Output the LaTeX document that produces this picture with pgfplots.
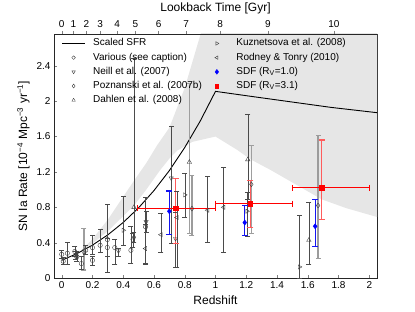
\documentclass[border=0pt]{standalone}
\usepackage{fontspec}
\setmainfont{Liberation Sans}
\usepackage{pgfplots}
\pgfplotsset{compat=1.18}
\definecolor{band}{RGB}{230,230,230}
\definecolor{cA}{RGB}{60,60,60}
\definecolor{cB}{RGB}{61,61,61}
\definecolor{lred}{RGB}{255,90,90}
\begin{document}
\begin{tikzpicture}
\path[use as bounding box] (0,0) rectangle (415pt,312pt);
\begin{axis}[
  at={(54pt,34pt)}, anchor=south west, scale only axis, width=323pt, height=244pt,
  xmin=-0.05, xmax=2.05, ymin=0, ymax=2.76,
  xtick={0,0.2,0.4,0.6,0.8,1,1.2,1.4,1.6,1.8,2},
  xticklabels={0,0.2,0.4,0.6,0.8,1,1.2,1.4,1.6,1.8,2},
  ytick={0,0.4,0.8,1.2,1.6,2,2.4},
  yticklabels={0,0.4,0.8,1.2,1.6,2,2.4},
  xtick pos=bottom, ytick pos=left,
  tick align=inside, major tick length=3pt,
  /pgf/number format/assume math mode=true,
  tick label style={font=\fontsize{10}{12}\selectfont},
  label style={font=\fontsize{12}{14}\selectfont},
  xlabel={Redshift},
  ylabel={SN Ia Rate [10\textsuperscript{−4} Mpc\textsuperscript{−3} yr\textsuperscript{−1}]},
  axis line style={black!85},
  legend columns=2, legend cell align=left,
  legend style={at={(0,1)}, anchor=north west, xshift=7.7pt, yshift=-2.35pt,
    draw=none, fill=none, inner sep=0pt, outer sep=0pt, column sep=0pt, row sep=0pt,
    font=\fontsize{10}{12}\selectfont,
    nodes={inner xsep=2pt, inner ysep=2.35pt, text height=7.2pt, text depth=2.3pt},
    /tikz/every even column/.append style={column sep=5pt}},
  tA/.style={black!70, line width=0.4pt, mark=-, mark size=2.5pt, mark options={solid, line width=0.4pt}, forget plot},
  tB/.style={black!71, line width=0.4pt, mark=-, mark size=2.5pt, mark options={solid, line width=0.4pt}, forget plot},
  gA/.style={black!38, line width=1.3pt, mark=-, mark size=2.5pt, mark options={solid, line width=1.3pt}, forget plot},
  gB/.style={black!39, line width=1.3pt, mark=-, mark size=2.5pt, mark options={solid, line width=1.3pt}, forget plot},
  sdfv/.style={line width=1.2pt, mark=-, mark size=3pt, mark options={solid, line width=1.2pt}, forget plot},
]
% shaded band
\addplot[fill=band, draw=none, forget plot] coordinates {
(0.12,0.29) (0.2,0.39) (0.3,0.53) (0.4,0.70) (0.47,0.82) (0.55,1.0) (0.64,1.22) (0.7,1.35) (0.75,1.44) (0.85,1.54) (1.0,1.6)
(1.14,1.45) (1.23,1.34) (1.36,1.22) (1.5,1.08) (1.69,0.89) (1.85,0.79) (2.05,0.69) (2.05,2.9) (0.93,2.9)
(0.91,2.8) (0.8,2.15) (0.7,1.70) (0.62,1.50) (0.55,1.30) (0.47,1.10) (0.4,0.92) (0.3,0.66) (0.2,0.44) (0.12,0.30)
} -- cycle;
% scaled SFR
\addplot[black, line width=0.9pt, forget plot] coordinates {
(0,0.2) (0.1,0.2765) (0.2,0.3717) (0.3,0.488) (0.4,0.628) (0.5,0.794) (0.6,0.989) (0.7,1.215) (0.8,1.476) (0.9,1.773) (1.0,2.111)
(1.25,2.05) (1.5,1.99) (1.75,1.93) (2.05,1.87)};

% legend images (row-major order)
\addlegendimage{legend image code/.code={\path[draw=none,fill=none] (0pt,-3pt) rectangle (29pt,3pt); \draw[black, line width=0.8pt] (0pt,0pt) -- (23pt,0pt);}}
\addlegendentry{Scaled SFR}
\addlegendimage{legend image code/.code={\path[draw=none,fill=none] (0pt,-3pt) rectangle (25.5pt,3pt); \draw[cA, line width=0.4pt, mark=triangle, mark size=2pt, mark options={rotate=-90}] plot coordinates {(8pt,0pt)};}}
\addlegendentry{Kuznetsova et al. (2008)}
\addlegendimage{legend image code/.code={\path[draw=none,fill=none] (0pt,-3pt) rectangle (29pt,3pt); \draw[cB, line width=0.4pt, mark=o, mark size=1.8pt] plot coordinates {(11.5pt,0pt)};}}
\addlegendentry{Various (see caption)}
\addlegendimage{legend image code/.code={\path[draw=none,fill=none] (0pt,-3pt) rectangle (25.5pt,3pt); \draw[cA, line width=0.4pt, mark=triangle, mark size=2pt, mark options={rotate=90}] plot coordinates {(8pt,0pt)};}}
\addlegendentry{Rodney \& Tonry (2010)}
\addlegendimage{legend image code/.code={\path[draw=none,fill=none] (0pt,-3pt) rectangle (29pt,3pt); \draw[cB, line width=0.4pt, mark=triangle, mark size=2pt, mark options={rotate=180}] plot coordinates {(11.5pt,0pt)};}}
\addlegendentry{Neill et al. (2007)}
\addlegendimage{legend image code/.code={\path[draw=none,fill=none] (0pt,-3pt) rectangle (25.5pt,3pt); \draw[blue, mark=diamond*, mark size=2.4pt] plot coordinates {(8pt,0pt)};}}
\addlegendentry{SDF (R\textsubscript{V}=1.0)}
\addlegendimage{legend image code/.code={\path[draw=none,fill=none] (0pt,-3pt) rectangle (29pt,3pt); \draw[cA, line width=0.4pt, mark=diamond, mark size=2pt] plot coordinates {(11.5pt,0pt)};}}
\addlegendentry{Poznanski et al. (2007b)}
\addlegendimage{legend image code/.code={\path[draw=none,fill=none] (0pt,-3pt) rectangle (25.5pt,3pt); \draw[red, mark=square*, mark size=1.8pt] plot coordinates {(8pt,0pt)};}}
\addlegendentry{SDF (R\textsubscript{V}=3.1)}
\addlegendimage{legend image code/.code={\path[draw=none,fill=none] (0pt,-3pt) rectangle (29pt,3pt); \draw[cB, line width=0.4pt, mark=triangle, mark size=2pt] plot coordinates {(11.5pt,0pt)};}}
\addlegendentry{Dahlen et al. (2008)}

% thick gray error bars
\addplot[gA] coordinates {(0.145,0.09) (0.145,0.56)};
\addplot[gB] coordinates {(0.847,0.48) (0.847,1.16)};
\addplot[gA] coordinates {(1.233,0.50) (1.233,1.50)};
\addplot[gB] coordinates {(1.667,0.22) (1.667,1.61)};
\addplot[gA] coordinates {(0.830,0.50) (0.830,2.20)};
% thin error bars
\addplot[tA] coordinates {(0.000,0.228) (0.000,0.318)};
\addplot[tB] coordinates {(0.010,0.160) (0.010,0.230)};
\addplot[tA] coordinates {(0.037,0.160) (0.037,0.400)};
\addplot[tB] coordinates {(0.085,0.250) (0.085,0.360)};
\addplot[tA] coordinates {(0.093,0.207) (0.093,0.307)};
\addplot[tB] coordinates {(0.098,0.190) (0.098,0.300)};
\addplot[tA] coordinates {(0.128,0.103) (0.128,0.243)};
\addplot[tB] coordinates {(0.156,0.264) (0.156,0.374)};
\addplot[tA] coordinates {(0.200,0.264) (0.200,0.484)};
\addplot[tB] coordinates {(0.200,0.150) (0.200,0.250)};
\addplot[tA] coordinates {(0.250,0.295) (0.250,0.550)};
\addplot[tB] coordinates {(0.297,0.065) (0.297,0.835)};
\addplot[tA] coordinates {(0.297,0.245) (0.297,0.445)};
\addplot[tB] coordinates {(0.345,0.154) (0.345,0.444)};
\addplot[tA] coordinates {(0.450,0.163) (0.450,0.583)};
\addplot[tB] coordinates {(0.545,0.158) (0.545,0.918)};
\addplot[tA] coordinates {(0.369,0.246) (0.369,0.336)};
\addplot[tB] coordinates {(0.462,0.347) (0.462,0.507)};
\addplot[tA] coordinates {(0.549,0.515) (0.549,0.755)};
\addplot[tB] coordinates {(0.712,0.390) (0.712,1.720)};
\addplot[tA] coordinates {(0.740,0.125) (0.740,0.745)};
\addplot[tB] coordinates {(0.470,0.400) (0.470,0.520)};
\addplot[tA] coordinates {(0.470,0.400) (0.470,2.490)};
\addplot[tB] coordinates {(1.210,0.890) (1.210,1.850)};
\addplot[tA] coordinates {(1.607,0.157) (1.607,0.857)};
\addplot[tB] coordinates {(0.400,0.370) (0.400,0.920)};
\addplot[tA] coordinates {(0.800,0.690) (0.800,1.180)};
\addplot[tB] coordinates {(1.205,0.475) (1.205,0.975)};
\addplot[tA] coordinates {(1.546,0.000) (1.546,0.710)};
\addplot[tB] coordinates {(0.545,0.163) (0.545,0.603)};
\addplot[tA] coordinates {(0.645,0.295) (0.645,0.730)};
\addplot[tB] coordinates {(0.749,0.124) (0.749,0.984)};
\addplot[tA] coordinates {(0.949,0.407) (0.949,1.157)};
\addplot[tB] coordinates {(1.053,0.295) (1.053,1.250)};
% Various (circles)
\addplot[only marks, mark=o, mark size=2.2pt, cA, mark options={line width=0.4pt}, forget plot] coordinates {
(0.000,0.268) (0.010,0.190) (0.037,0.280) (0.085,0.300) (0.093,0.257) (0.098,0.240) (0.128,0.163) (0.145,0.300)
(0.156,0.314) (0.200,0.344) (0.200,0.200) (0.250,0.370) (0.297,0.435) (0.297,0.345) (0.345,0.344) (0.450,0.313) (0.545,0.578)};
% Neill
\addplot[only marks, mark=triangle, mark size=2.4pt, cB, mark options={line width=0.4pt, rotate=180}, forget plot] coordinates {
(0.369,0.306) (0.462,0.427) (0.549,0.635) (0.712,1.130) (0.740,0.445)};
% Poznanski
\addplot[only marks, mark=diamond, mark size=2.4pt, cA, mark options={line width=0.4pt}, forget plot] coordinates {
(0.470,0.460) (0.847,0.785) (1.233,1.060) (1.667,0.820)};
% Dahlen
\addplot[only marks, mark=triangle, mark size=2.6pt, cB, mark options={line width=0.4pt}, forget plot] coordinates {
(0.470,0.800) (0.830,1.310) (1.210,1.340) (1.607,0.427)};
% Kuznetsova
\addplot[only marks, mark=triangle, mark size=2.4pt, cA, mark options={line width=0.4pt, rotate=-90}, forget plot] coordinates {
(0.400,0.540) (0.800,0.940) (1.205,0.755) (1.546,0.125)};
% Rodney & Tonry
\addplot[only marks, mark=triangle, mark size=2.4pt, cB, mark options={line width=0.4pt, rotate=90}, forget plot] coordinates {
(0.545,0.333) (0.645,0.490) (0.749,0.684) (0.949,0.767) (1.053,0.800)};
% SDF Rv=1.0 error bars
\addplot[sdfv, color={rgb,255:red,20;green,20;blue,240}] coordinates {(0.700,0.495) (0.700,0.985)};
\addplot[sdfv, color={rgb,255:red,21;green,21;blue,241}] coordinates {(1.190,0.477) (1.190,0.817)};
\addplot[sdfv, color={rgb,255:red,22;green,22;blue,242}] coordinates {(1.648,0.360) (1.648,0.885)};
% SDF Rv=3.1 vertical error bars
\addplot[sdfv, color={rgb,255:red,255;green,90;blue,90}] coordinates {(0.740,0.390) (0.740,1.125)};
\addplot[sdfv, color={rgb,255:red,255;green,91;blue,91}] coordinates {(1.227,0.570) (1.227,1.100)};
\addplot[sdfv, color={rgb,255:red,255;green,92;blue,92}] coordinates {(1.690,0.660) (1.690,1.560)};
\addplot[only marks, mark=diamond*, mark size=2.6pt, blue, forget plot] coordinates {(0.700,0.755) (1.190,0.627) (1.648,0.585)};
% SDF Rv=3.1 horizontal bins (drawn last)
\addplot[draw=red, line width=1.3pt, no marks, forget plot] coordinates {(0.495,0.790) (1.000,0.790)};
\addplot[draw=red, line width=1.3pt, no marks, forget plot] coordinates {(1.000,0.840) (1.500,0.840)};
\addplot[draw=red, line width=1.3pt, no marks, forget plot] coordinates {(1.500,1.020) (2.000,1.020)};
\addplot[only marks, red, mark=|, mark size=3pt, mark options={line width=1.2pt}, forget plot] coordinates {
(0.495,0.790) (1.000,0.790) (1.000,0.840) (1.500,0.840) (1.500,1.020) (2.000,1.020)};
\addplot[only marks, mark=square*, mark size=2.2pt, red, forget plot] coordinates {(0.740,0.790) (1.227,0.840) (1.690,1.020)};
\end{axis}
\begin{axis}[
  at={(54pt,34pt)}, anchor=south west, scale only axis, width=323pt, height=244pt,
  xmin=-0.05, xmax=2.05, ymin=0, ymax=2.76,
  axis x line*=top, axis y line=none,
  xtick={0,0.076,0.16,0.25,0.36,0.48,0.63,0.81,1.03,1.34,1.77},
  xticklabels={0,1,2,3,4,5,6,7,8,9,10},
  tick align=outside, major tick length=3pt,
  axis line style={black!85},
  /pgf/number format/assume math mode=true,
  tick label style={font=\fontsize{10}{12}\selectfont},
  label style={font=\fontsize{12}{14}\selectfont},
  xlabel={Lookback Time [Gyr]},
]
\end{axis}
\end{tikzpicture}
\end{document}
